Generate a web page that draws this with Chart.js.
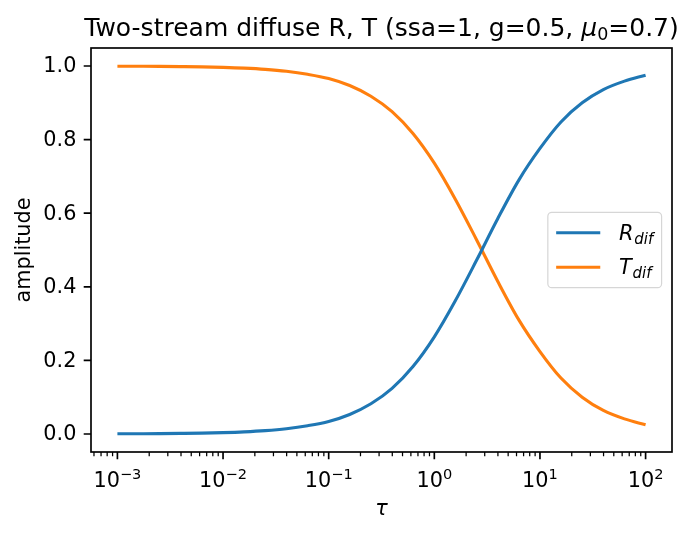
<!DOCTYPE html>
<html>
<head>
<meta charset="utf-8">
<script src="https://cdn.jsdelivr.net/npm/chart.js@4.4.0/dist/chart.umd.min.js"></script>
<style>
  html, body { margin: 0; padding: 0; background: #fff; }
  #wrap { width: 695px; height: 534px; }
</style>
</head>
<body>
<div id="wrap"><canvas id="rtChart" width="695" height="534"></canvas></div>
<script>
// optical depth samples (0.2 decade steps)
const tau = [0.001, 0.00158, 0.00251, 0.00398, 0.00631, 0.01, 0.0158, 0.0251, 0.0398, 0.0631,
             0.1, 0.158, 0.251, 0.398, 0.631, 1, 1.58, 2.51, 3.98, 6.31,
             10, 15.8, 25.1, 39.8, 63.1, 100];
const rDif = [0.0004, 0.0006, 0.0009, 0.0015, 0.0023, 0.0037, 0.0058, 0.0091, 0.0143, 0.0224,
              0.034, 0.053, 0.082, 0.124, 0.184, 0.264, 0.362, 0.472, 0.585, 0.690,
              0.776, 0.848, 0.900, 0.936, 0.959, 0.975];
const tDif = [0.9996, 0.9994, 0.9991, 0.9985, 0.9977, 0.9963, 0.9942, 0.9909, 0.9857, 0.9776,
              0.966, 0.947, 0.918, 0.876, 0.816, 0.736, 0.638, 0.528, 0.415, 0.310,
              0.224, 0.152, 0.100, 0.064, 0.041, 0.025];

const seriesLabels = ['R_dif', 'T_dif'];
const seriesColors = ['#1f77b4', '#ff7f0e'];

const yTicks = [0.0, 0.2, 0.4, 0.6, 0.8, 1.0];
const yTickLabels = ['0.0', '0.2', '0.4', '0.6', '0.8', '1.0'];
const xTicks = [0.001, 0.01, 0.1, 1, 10, 100];
const xTickExps = ['\u22123', '\u22122', '\u22121', '0', '1', '2'];

const FONT = '"DejaVu Sans"';
const FS = 20.8;

function toPoints(xs, ys) {
  return xs.map((x, i) => ({ x: x, y: ys[i] }));
}

// text drawn piece by piece (base + sub/superscript)
function richWidth(ctx, parts) {
  let w = 0;
  parts.forEach(p => { ctx.font = p.font; w += ctx.measureText(p.text).width + (p.dx || 0); });
  return w;
}
function drawRich(ctx, parts, x, y) {
  parts.forEach(p => {
    ctx.font = p.font;
    x += (p.dx || 0);
    ctx.fillText(p.text, x, y + (p.dy || 0));
    x += ctx.measureText(p.text).width;
  });
}

const axesPlugin = {
  id: 'mplAxes',
  afterDraw(chart) {
    const ctx = chart.ctx;
    const area = chart.chartArea;
    const xs = chart.scales.x;
    const ys = chart.scales.y;
    ctx.save();
    ctx.fillStyle = '#000';
    ctx.strokeStyle = '#000';

    // ticks
    ctx.lineWidth = 1.67;
    ctx.beginPath();
    yTicks.forEach(v => {
      const py = ys.getPixelForValue(v);
      ctx.moveTo(area.left, py);
      ctx.lineTo(area.left - 7.3, py);
    });
    xTicks.forEach(v => {
      const px = xs.getPixelForValue(v);
      ctx.moveTo(px, area.bottom);
      ctx.lineTo(px, area.bottom + 7.3);
    });
    ctx.stroke();
    ctx.lineWidth = 1.25;
    ctx.beginPath();
    for (let e = -4; e <= 2; e++) {
      for (let m = 2; m <= 9; m++) {
        const v = m * Math.pow(10, e);
        if (v < xs.min || v > xs.max) continue;
        const px = xs.getPixelForValue(v);
        ctx.moveTo(px, area.bottom);
        ctx.lineTo(px, area.bottom + 4.2);
      }
    }
    ctx.stroke();

    // frame
    ctx.lineWidth = 1.67;
    ctx.strokeRect(area.left, area.top, area.right - area.left, area.bottom - area.top);

    // y tick labels
    ctx.font = FS + 'px ' + FONT;
    ctx.textAlign = 'right';
    ctx.textBaseline = 'middle';
    yTicks.forEach((v, i) => {
      ctx.fillText(yTickLabels[i], area.left - 14.6, ys.getPixelForValue(v) + 1);
    });

    // x tick labels 10^n
    ctx.textAlign = 'left';
    ctx.textBaseline = 'alphabetic';
    xTicks.forEach((v, i) => {
      const parts = [
        { text: '10', font: FS + 'px ' + FONT },
        { text: xTickExps[i], font: (FS * 0.7) + 'px ' + FONT, dy: -8.5 }
      ];
      const w = richWidth(ctx, parts);
      drawRich(ctx, parts, xs.getPixelForValue(v) - w / 2, 487);
    });

    // axis labels
    ctx.textAlign = 'center';
    ctx.font = 'italic ' + FS + 'px ' + FONT;
    ctx.fillText('\u03c4', (area.left + area.right) / 2, 515);
    ctx.save();
    ctx.translate(25, (area.top + area.bottom) / 2);
    ctx.rotate(-Math.PI / 2);
    ctx.font = FS + 'px ' + FONT;
    ctx.textBaseline = 'middle';
    ctx.fillText('amplitude', 0, 0);
    ctx.restore();

    // title
    ctx.textAlign = 'left';
    ctx.textBaseline = 'alphabetic';
    const TS = 25;
    const titleParts = [
      { text: 'Two-stream diffuse R, T (ssa=1, g=0.5, ', font: TS + 'px ' + FONT },
      { text: '\u03bc', font: 'italic ' + TS + 'px ' + FONT },
      { text: '0', font: (TS * 0.7) + 'px ' + FONT, dy: 4 },
      { text: '=0.7)', font: TS + 'px ' + FONT }
    ];
    const tw = richWidth(ctx, titleParts);
    drawRich(ctx, titleParts, (area.left + area.right) / 2 - tw / 2, 35.5);

    // legend, centre right
    const legendParts = seriesLabels.map(lbl => {
      const s = lbl.split('_');
      return [
        { text: s[0], font: 'italic ' + FS + 'px ' + FONT, dx: 2 },
        { text: s[1], font: 'italic ' + (FS * 0.72) + 'px ' + FONT, dx: 1, dy: 4 }
      ];
    });
    const textW = Math.max(...legendParts.map(p => richWidth(ctx, p)));
    const pad = 0.4 * FS, handle = 2 * FS + 2.5, gap = 0.8 * FS;
    const boxW = pad + handle + gap + textW + pad;
    const boxH = 75.4;
    const bx = area.right - 0.5 * FS - boxW;
    const cy = (area.top + area.bottom) / 2;
    const by = cy - boxH / 2;
    ctx.beginPath();
    ctx.roundRect(bx, by, boxW, boxH, 4);
    ctx.fillStyle = 'rgba(255,255,255,0.8)';
    ctx.fill();
    ctx.strokeStyle = '#d6d6d6';
    ctx.lineWidth = 1.2;
    ctx.stroke();
    legendParts.forEach((parts, i) => {
      const ly = cy - 17.2 + i * 34.4;
      ctx.strokeStyle = seriesColors[i];
      ctx.lineWidth = 3.1;
      ctx.beginPath();
      ctx.moveTo(bx + pad, ly);
      ctx.lineTo(bx + pad + handle, ly);
      ctx.stroke();
      ctx.fillStyle = '#000';
      drawRich(ctx, parts, bx + pad + handle + gap, ly + 6.8);
    });

    ctx.restore();
  }
};

const config = {
  type: 'line',
  data: {
    datasets: [
      { label: seriesLabels[0], data: toPoints(tau, rDif), borderColor: seriesColors[0] },
      { label: seriesLabels[1], data: toPoints(tau, tDif), borderColor: seriesColors[1] }
    ]
  },
  options: {
    responsive: false,
    animation: false,
    devicePixelRatio: 1,
    layout: { padding: { left: 91, top: 48, right: 23, bottom: 82 } },
    elements: {
      point: { radius: 0 },
      line: { borderWidth: 3.1, cubicInterpolationMode: 'monotone', fill: false }
    },
    scales: {
      x: { type: 'logarithmic', display: false, bounds: 'data', min: Math.pow(10, -3.25), max: Math.pow(10, 2.25) },
      y: { type: 'linear', display: false, bounds: 'data', min: -0.049, max: 1.049 }
    },
    plugins: {
      legend: { display: false },
      title: { display: false },
      tooltip: { enabled: false }
    }
  },
  plugins: [axesPlugin]
};

new Chart(document.getElementById('rtChart'), config);
</script>
</body>
</html>
